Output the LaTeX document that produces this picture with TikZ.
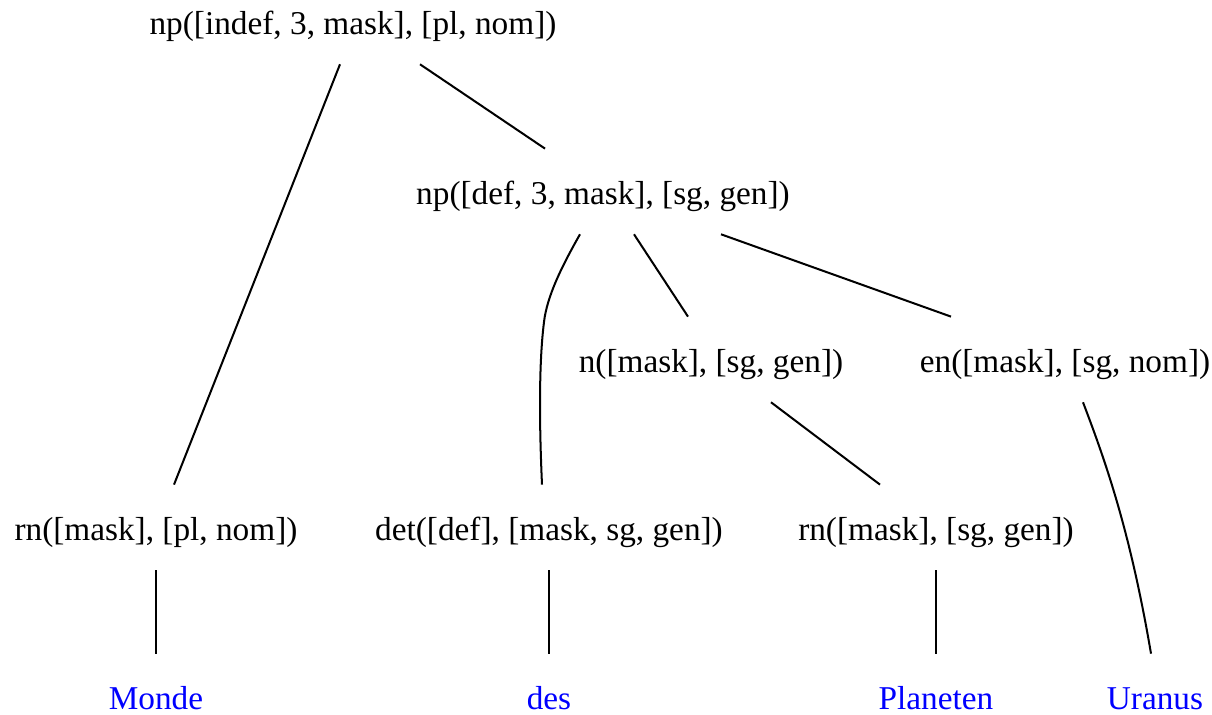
\documentclass[tikz,border=0pt]{standalone}
\usepackage{fontspec}
\setmainfont{Liberation Serif}
\usetikzlibrary{calc}

\tikzset{
	cat/.style={inner sep=0pt, text height=32.9pt, text depth=17.9pt, anchor=base, font=\fontsize{19.9}{24}\selectfont},
	word/.style={cat, text=blue},
	edge/.style={line width=1.2pt}
}

\begin{document}
\begin{tikzpicture}[x=0.5977pt, y=-0.5977pt]
	\useasboundingbox (0,0) rectangle (1212,715);
	\node[cat] (np1) at (353,34) {np([indef, 3, mask], [pl, nom])};
	\node[cat] (np2) at (603,204) {np([def, 3, mask], [sg, gen])};
	\node[cat] (n1) at (711,372) {n([mask], [sg, gen])};
	\node[cat] (en1) at (1065,372) {en([mask], [sg, nom])};
	\node[cat] (rn1) at (156,540) {rn([mask], [pl, nom])};
	\node[cat] (det1) at (549,540) {det([def], [mask, sg, gen])};
	\node[cat] (rn2) at (936,540) {rn([mask], [sg, gen])};
	\node[word] (monde) at (156,709) {Monde};
	\node[word] (des) at (549,709) {des};
	\node[word] (planeten) at (936,709) {Planeten};
	\node[word] (uranus) at (1155,709) {Uranus};

	\draw[edge] ($(np1.south)+(-13,0)$) -- ($(rn1.north)+(18,0)$);
	\draw[edge] ($(np1.south)+(67,0)$) -- ($(np2.north)+(-58,0)$);
	\draw[edge] ($(np2.south)+(-23,0)$) .. controls (562,266) and (547,296) .. (544,322)
		.. controls (538,370) and (540,440) .. ($(det1.north)+(-7,0)$);
	\draw[edge] ($(np2.south)+(31,0)$) -- ($(n1.north)+(-23,0)$);
	\draw[edge] ($(np2.south)+(118,0)$) -- ($(en1.north)+(-114,0)$);
	\draw[edge] ($(n1.south)+(60,0)$) -- ($(rn2.north)+(-56,0)$);
	\draw[edge] ($(en1.south)+(18,0)$) .. controls (1105,460) and (1130,530) .. ($(uranus.north)+(-4,0)$);
	\draw[edge] (rn1.south) -- (monde.north);
	\draw[edge] (det1.south) -- (des.north);
	\draw[edge] (rn2.south) -- (planeten.north);
\end{tikzpicture}
\end{document}
